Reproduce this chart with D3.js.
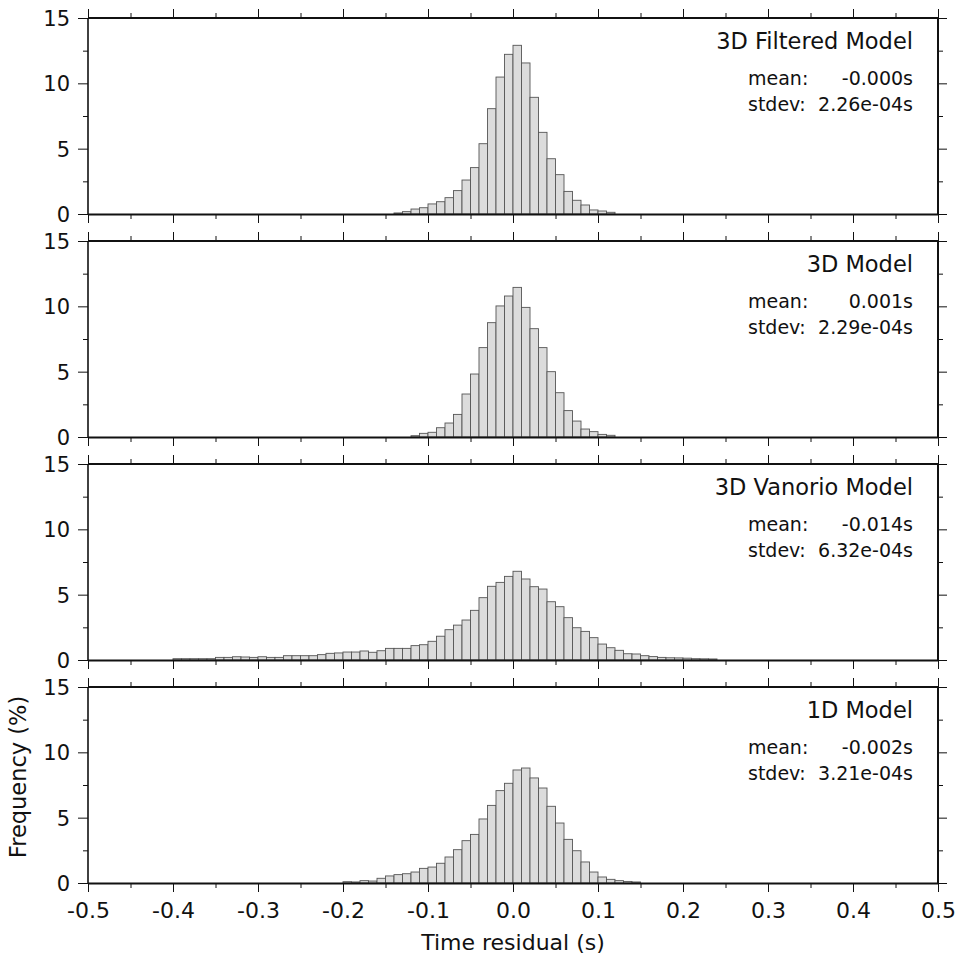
<!DOCTYPE html>
<html>
<head>
<meta charset="utf-8">
<script src="https://cdn.jsdelivr.net/npm/d3@7"></script>
<style>
  html, body { margin: 0; padding: 0; background: #fff; }
  svg { display: block; }
  text { font-family: "DejaVu Sans", "Liberation Sans", sans-serif; fill: #111; }
</style>
</head>
<body>
<svg id="chart" width="964" height="959"></svg>
<script>
// ---- data ----
const binWidth = 0.01;
const modelNames = ["3D Filtered Model", "3D Model", "3D Vanorio Model", "1D Model"];
const meanLabels = ["-0.000s", "0.001s", "-0.014s", "-0.002s"];
const stdevLabels = ["2.26e-04s", "2.29e-04s", "6.32e-04s", "3.21e-04s"];
const binStarts = [-0.14, -0.12, -0.40, -0.20];

const filteredFreq = [0.08, 0.18, 0.38, 0.48, 0.77, 0.94, 1.25, 1.79, 2.6, 3.55, 5.38, 8.06, 10.48, 12.22,
  12.91, 11.56, 8.93, 6.25, 4.23, 3.01, 1.73, 1.05, 0.69, 0.31, 0.23, 0.13];
const model3DFreq = [0.10, 0.28, 0.36, 0.71, 1.07, 1.73, 3.29, 4.82, 6.84, 8.75, 10.03, 10.79,
  11.45, 9.92, 8.29, 6.84, 5.0, 3.39, 2.02, 1.22, 0.61, 0.41, 0.20, 0.13];
const vanorioFreq = [0.1, 0.1, 0.1, 0.1, 0.1, 0.2, 0.2, 0.25, 0.23, 0.2, 0.25, 0.2, 0.2,
  0.33, 0.33, 0.33, 0.33, 0.41, 0.51, 0.54, 0.61, 0.61, 0.69, 0.59, 0.71, 0.89, 0.89, 0.89,
  1.1, 1.17, 1.43, 1.82, 2.32, 2.67, 3.06, 3.80, 4.77, 5.64, 5.94, 6.40,
  6.79, 6.2, 5.61, 5.43, 4.46, 4.08, 3.24, 2.47, 2.19, 1.71, 1.22, 0.94, 0.74, 0.48, 0.46,
  0.33, 0.26, 0.2, 0.17, 0.16, 0.14, 0.1, 0.09, 0.08];
const model1DFreq = [0.1, 0.08, 0.18, 0.15, 0.36, 0.54, 0.64, 0.71, 0.84, 1.12, 1.22, 1.51, 1.99,
  2.55, 3.24, 3.72, 4.9, 5.94, 7.07, 7.63, 8.65, 8.8, 8.04, 7.27, 5.87, 4.59, 3.34, 2.47,
  1.61, 0.84, 0.46, 0.28, 0.18, 0.12, 0.08];
const seriesFreq = [filteredFreq, model3DFreq, vanorioFreq, model1DFreq];

const xTickValues = [-0.5, -0.4, -0.3, -0.2, -0.1, 0.0, 0.1, 0.2, 0.3, 0.4, 0.5];
const xTickLabels = ["-0.5", "-0.4", "-0.3", "-0.2", "-0.1", "0.0", "0.1", "0.2", "0.3", "0.4", "0.5"];
const xMinorTicks = [-0.45, -0.35, -0.25, -0.15, -0.05, 0.05, 0.15, 0.25, 0.35, 0.45];
const yTickValues = [0, 5, 10, 15];
const yMinorTicks = [2.5, 7.5, 12.5];

// ---- layout ----
const svg = d3.select("#chart");
const left = 88, right = 938;
const panelTops = [18, 241, 464, 687];
const panelH = 196;

const x = d3.scaleLinear().domain([-0.5, 0.5]).range([left, right]);

panelTops.forEach((top, p) => {
  const y = d3.scaleLinear().domain([0, 15]).range([top + panelH, top]);
  const g = svg.append("g");
  const freq = seriesFreq[p];
  const bins = freq.map((v, i) => ({ x0: binStarts[p] + i * binWidth, v }));

  // bars
  g.selectAll("rect.bar").data(bins).enter().append("rect")
    .attr("class", "bar")
    .attr("x", d => x(d.x0))
    .attr("width", d => x(d.x0 + binWidth) - x(d.x0))
    .attr("y", d => y(d.v))
    .attr("height", d => y(0) - y(d.v))
    .attr("fill", "#dcdcdc")
    .attr("stroke", "#555")
    .attr("stroke-width", 0.9);

  // axes with outward ticks
  const axL = d3.axisLeft(y).tickValues(yTickValues).tickSize(10).tickPadding(8).tickFormat(d3.format("d"));
  const axLm = d3.axisLeft(y).tickValues(yMinorTicks).tickSize(5).tickFormat("");
  const axR = d3.axisRight(y).tickValues(yTickValues).tickSize(9).tickFormat("");
  const axRm = d3.axisRight(y).tickValues(yMinorTicks).tickSize(5).tickFormat("");
  const axT = d3.axisTop(x).tickValues(xTickValues).tickSize(9).tickFormat("");
  const axTm = d3.axisTop(x).tickValues(xMinorTicks).tickSize(5).tickFormat("");
  const axB = d3.axisBottom(x).tickValues(xTickValues).tickSize(9).tickPadding(10)
    .tickFormat((d, i) => p === 3 ? xTickLabels[i] : "");
  const axBm = d3.axisBottom(x).tickValues(xMinorTicks).tickSize(5).tickFormat("");

  const style = sel => {
    sel.select(".domain").remove();
    sel.selectAll(".tick line").attr("stroke", "#111").attr("stroke-width", 1);
    sel.selectAll(".tick text").attr("fill", "#111").style("font-family", '"DejaVu Sans", sans-serif');
  };
  g.append("g").attr("transform", `translate(${left},0)`).call(axL).call(style)
    .selectAll(".tick text").style("font-size", "21px").attr("dy", "0.36em");
  g.append("g").attr("transform", `translate(${left},0)`).call(axLm).call(style);
  g.append("g").attr("transform", `translate(${right},0)`).call(axR).call(style);
  g.append("g").attr("transform", `translate(${right},0)`).call(axRm).call(style);
  g.append("g").attr("transform", `translate(0,${top})`).call(axT).call(style);
  g.append("g").attr("transform", `translate(0,${top})`).call(axTm).call(style);
  g.append("g").attr("transform", `translate(0,${top + panelH})`).call(axB).call(style)
    .selectAll(".tick text").style("font-size", "22px");
  g.append("g").attr("transform", `translate(0,${top + panelH})`).call(axBm).call(style);

  // frame
  g.append("line").attr("x1", left).attr("x2", right).attr("y1", top).attr("y2", top)
    .attr("stroke", "#111").attr("stroke-width", 2);
  g.append("line").attr("x1", left).attr("x2", right).attr("y1", top + panelH + 0.5).attr("y2", top + panelH + 0.5)
    .attr("stroke", "#111").attr("stroke-width", 1.8);
  g.append("line").attr("x1", left).attr("x2", left).attr("y1", top).attr("y2", top + panelH)
    .attr("stroke", "#111").attr("stroke-width", 1.6);
  g.append("line").attr("x1", right).attr("x2", right).attr("y1", top).attr("y2", top + panelH)
    .attr("stroke", "#111").attr("stroke-width", 2);

  // labels
  g.append("text").attr("x", 913).attr("y", top + 31).attr("text-anchor", "end")
    .style("font-size", "22.5px").text(modelNames[p]);
  g.append("text").attr("x", 748).attr("y", top + 67).style("font-size", "19px").text("mean:");
  g.append("text").attr("x", 913).attr("y", top + 67).attr("text-anchor", "end")
    .style("font-size", "19px").text(meanLabels[p]);
  g.append("text").attr("x", 748).attr("y", top + 93).style("font-size", "19px").text("stdev:");
  g.append("text").attr("x", 913).attr("y", top + 93).attr("text-anchor", "end")
    .style("font-size", "19px").text(stdevLabels[p]);
});

// axis titles
svg.append("text").attr("x", (left + right) / 2).attr("y", 950).attr("text-anchor", "middle")
  .style("font-size", "22px").text("Time residual (s)");
svg.append("text").attr("transform", `translate(26,${panelTops[3] + panelH / 2 - 8}) rotate(-90)`)
  .attr("text-anchor", "middle").style("font-size", "22.5px").text("Frequency (%)");
</script>
</body>
</html>
